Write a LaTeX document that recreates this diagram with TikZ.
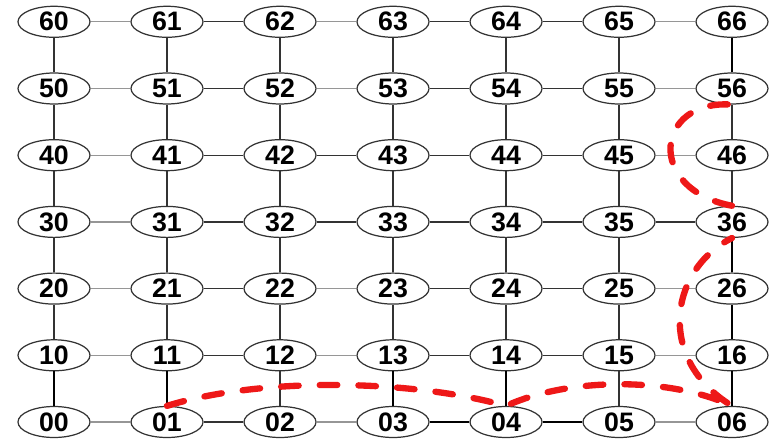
\documentclass[tikz,border=0pt]{standalone}
\usepackage{fontspec}
\setmainfont{Liberation Sans}
\usepackage{xcolor}
\usetikzlibrary{shapes.geometric}
\definecolor{routered}{RGB}{238,24,24}
\definecolor{linkgray}{RGB}{150,150,150}

\begin{document}
\begin{tikzpicture}[x=1cm, y=1cm,
    cell/.style={draw=black!80, line width=0.35pt, ellipse, minimum width=0.72cm,
      minimum height=0.31cm, inner sep=0pt, font=\fontsize{7.6}{8}\selectfont\bfseries},
    link/.style={black!80, line width=0.35pt},
    weaklink/.style={linkgray, line width=0.35pt},
    heavylink/.style={black, line width=0.8pt}]
  \useasboundingbox (0,0) rectangle (7.77,4.39);
  % mesh nodes, row then column
  \foreach \r in {0,...,6} {
    \foreach \c in {0,...,6} {
      \node[cell] (n\r\c) at ({0.54+1.13*\c},{0.17+0.667*\r}) {\r\c};
    }
  }
  % horizontal links
  \foreach \r in {0,...,6} {
    \foreach \c/\d/\s in {0/1/weaklink,1/2/link,2/3/weaklink,3/4/link,4/5/link,5/6/weaklink} {
      \draw[\s] (n\r\c) -- (n\r\d);
    }
  }
  \foreach \a/\b in {42/43,32/33,35/36} {
    \draw[link] (n\a) -- (n\b);
  }
  % vertical links
  \foreach \c in {0,...,6} {
    \foreach \r [evaluate=\r as \q using int(\r+1)] in {0,...,5} {
      \draw[link] (n\r\c) -- (n\q\c);
    }
  }
  % links used by the route
  \foreach \a/\b in {00/10,01/11,03/13,04/14,03/04,04/05,06/16,16/26,26/36,56/66} {
    \draw[heavylink] (n\a) -- (n\b);
  }
  % route (dashed)
  \draw[routered, line width=1.8pt, line cap=round, dash pattern=on 5pt off 6pt]
    (n01.north) .. controls (2.6,0.62) and (4.1,0.6) .. (n04.north)
    .. controls (5.7,0.62) and (6.7,0.62) .. (n06.north)
    .. controls (6.55,0.8) and (6.7,1.7) .. (n36.south)
    (n36.north) .. controls (6.45,2.5) and (6.55,3.4) .. (n56.south);
\end{tikzpicture}
\end{document}
